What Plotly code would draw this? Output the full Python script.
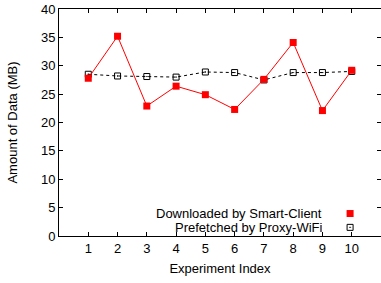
import plotly.graph_objects as go

experiments = [1, 2, 3, 4, 5, 6, 7, 8, 9, 10]
downloaded = [27.8, 35.2, 22.9, 26.4, 24.9, 22.3, 27.6, 34.1, 22.1, 29.2]
prefetched = [28.5, 28.2, 28.1, 28.0, 28.9, 28.8, 27.5, 28.8, 28.8, 29.0]
series_names = ["Downloaded by Smart-Client", "Prefetched by Proxy-WiFi"]
x_ticks = experiments
y_ticks = [0, 5, 10, 15, 20, 25, 30, 35, 40]

FONT = "Liberation Sans, Arial, sans-serif"

fig = go.Figure()
fig.add_trace(go.Scatter(
    x=experiments, y=prefetched, mode="lines+markers",
    line=dict(color="black", width=1, dash="dot"),
    marker=dict(symbol="square-open-dot", size=6, color="black", line=dict(width=1)),
    showlegend=False))
fig.add_trace(go.Scatter(
    x=experiments, y=downloaded, mode="lines+markers",
    line=dict(color="#ff0000", width=1),
    marker=dict(symbol="square", size=7, color="#ff0000"),
    showlegend=False))

# legend keys (gnuplot style: text then symbol on right)
key_x = [0.904]
key_y = [0.099, 0.038]
fig.add_trace(go.Scatter(x=key_x, y=[key_y[0]], xaxis="x2", yaxis="y2", mode="markers",
                         marker=dict(symbol="square", size=7, color="#ff0000"), showlegend=False))
fig.add_trace(go.Scatter(x=key_x, y=[key_y[1]], xaxis="x2", yaxis="y2", mode="markers",
                         marker=dict(symbol="square-open-dot", size=6, color="black", line=dict(width=1)),
                         showlegend=False))
for name, yy in zip(series_names, key_y):
    fig.add_annotation(x=0.823, y=yy, xref="paper", yref="paper", text=name,
                       showarrow=False, xanchor="right", yanchor="middle",
                       font=dict(family=FONT, size=13, color="black"))

title_font = dict(family=FONT, size=13, color="black")
fig.update_layout(
    width=381, height=283,
    margin=dict(l=59, r=0, t=9, b=47),
    paper_bgcolor="white", plot_bgcolor="white",
    font=dict(family=FONT, size=13, color="black"),
    xaxis=dict(range=[0, 11], tickvals=x_ticks, ticks="inside", ticklen=4,
               showgrid=False, zeroline=False, showline=True, linecolor="black",
               linewidth=1, mirror="ticks", tickcolor="black", automargin=False,
               title=dict(text="Experiment Index", standoff=9, font=title_font)),
    yaxis=dict(range=[0, 40], tickvals=y_ticks, ticks="inside", ticklen=4,
               showgrid=False, zeroline=False, showline=True, linecolor="black",
               linewidth=1, mirror="ticks", tickcolor="black", automargin=False,
               title=dict(text="Amount of Data (MB)", standoff=20, font=title_font)),
    xaxis2=dict(overlaying="x", range=[0, 1], visible=False),
    yaxis2=dict(overlaying="y", range=[0, 1], visible=False),
)

fig.write_html("out.html", config={"displayModeBar": False},
               post_script="document.body.style.margin='0';document.body.style.overflow='hidden';")
